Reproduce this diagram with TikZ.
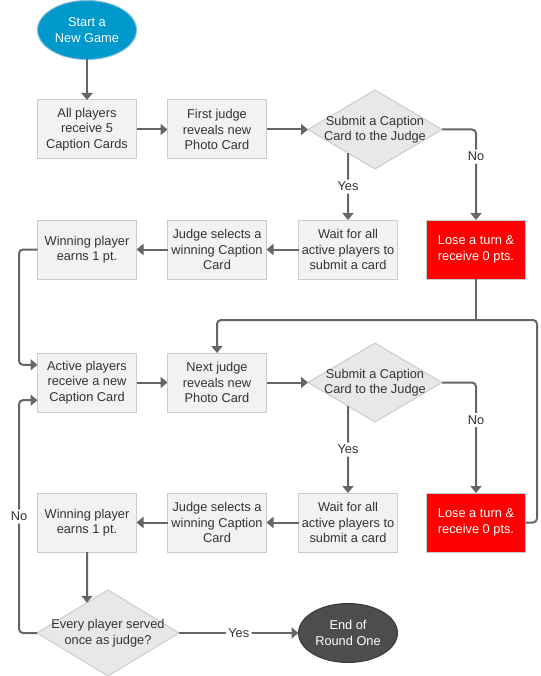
\documentclass[tikz,border=0pt]{standalone}
\usepackage{fontspec}
\setmainfont{Liberation Sans}
\usetikzlibrary{shapes.geometric,arrows.meta,calc}
\definecolor{lineg}{HTML}{666666}
\definecolor{boxf}{HTML}{F2F2F2}
\definecolor{boxd}{HTML}{CCCCCC}
\definecolor{diaf}{HTML}{E8E8E8}
\definecolor{txtc}{HTML}{333333}
\definecolor{startf}{HTML}{0099CC}
\definecolor{startd}{HTML}{7FBFD9}
\definecolor{endf}{HTML}{4D4D4D}
\definecolor{endd}{HTML}{3A3A3A}
\definecolor{redf}{HTML}{FF0000}
\begin{document}
\begin{tikzpicture}[x=1pt,y=-1pt,
  font=\fontsize{12.8}{15.5}\selectfont,
  box/.style={rectangle, draw=boxd, fill=boxf, line width=1pt, minimum width=99pt, minimum height=59pt, inner sep=0pt, align=center, text=txtc, outer sep=0pt},
  redbox/.style={box, fill=redf, text=white},
  dia/.style={diamond, draw=boxd, fill=diaf, line width=1pt, inner sep=0pt, outer sep=0pt},
  term/.style={ellipse, minimum width=99pt, minimum height=59pt, inner sep=0pt, align=center, text=white, line width=1pt, outer sep=0pt},
  dtext/.style={align=center, text=txtc, inner sep=0pt},
  arr/.style={draw=lineg, line width=2pt, -{Triangle[length=7pt,width=11pt]}, rounded corners=4pt},
  conn/.style={draw=lineg, line width=2pt, rounded corners=4pt},
  lbl/.style={fill=white, text=txtc, inner sep=2.5pt},
]
\useasboundingbox[fill=white] (0,0) rectangle (540,676);
% nodes
\node[term, fill=startf, draw=startd] (start) at (87,30) {Start a\\New Game};
\node[box] (b1) at (87,129.5) {All players\\receive 5\\Caption Cards};
\node[box] (b2) at (217,129.5) {First judge\\reveals new\\Photo Card};
\node[dia, minimum width=134pt, minimum height=79pt] (d1) at (375,129.5) {};
\node[dtext] (t1) at (d1) {Submit a Caption\\Card to the Judge};
\node[box] (w1) at (348,249.5) {Wait for all\\active players to\\submit a card};
\node[redbox] (r1) at (476,249.5) {Lose a turn \&\\receive 0 pts.};
\node[box] (j1) at (217,249.5) {Judge selects a\\winning Caption\\Card};
\node[box] (p1) at (87,249.5) {Winning player\\earns 1 pt.};
\node[box] (a1) at (87,382.5) {Active players\\receive a new\\Caption Card};
\node[box] (n2) at (217,382.5) {Next judge\\reveals new\\Photo Card};
\node[dia, minimum width=134pt, minimum height=79pt] (d2) at (375,382.5) {};
\node[dtext] (t2) at (d2) {Submit a Caption\\Card to the Judge};
\node[box] (w2) at (348,522.5) {Wait for all\\active players to\\submit a card};
\node[redbox] (r2) at (476,522.5) {Lose a turn \&\\receive 0 pts.};
\node[box] (j2) at (217,522.5) {Judge selects a\\winning Caption\\Card};
\node[box] (p2) at (87,522.5) {Winning player\\earns 1 pt.};
\node[dia, minimum width=142pt, minimum height=86pt] (d3) at (108,633) {};
\node[dtext] (t3) at (d3) {Every player served\\once as judge?};
\node[term, fill=endf, draw=endd] (end) at (348,633) {End of\\Round One};
% helper coordinates
\coordinate (lx) at (19,0);
\coordinate (rx) at (537,0);
\coordinate (jy) at (0,320);
\coordinate (a1in1) at ($(a1.north west)!0.2!(a1.south west)$);
\coordinate (a1in2) at ($(a1.north west)!0.8!(a1.south west)$);
\coordinate (y1) at (w1.north |- d1.center);
\coordinate (y2) at (w2.north |- d2.center);
\coordinate (y3) at (p2.south |- d3.center);
% connectors
\draw[arr] (start) -- (b1);
\draw[arr] (b1) -- (b2);
\draw[arr] (b2) -- (d1);
\draw[arr] (d1.east) -| node[lbl,pos=0.65]{No} (r1.north);
\draw[arr] (intersection of w1.north--y1 and d1.west--d1.south) -- node[lbl]{Yes} (w1.north);
\draw[arr] (w1) -- (j1);
\draw[arr] (j1) -- (p1);
\draw[arr] (p1.west) -- (p1.west -| lx) |- (a1in1);
\draw[conn] (r1.south) -- (r1.south |- jy);
\draw[arr] (r2.east) -| (rx |- jy) -| (n2.north);
\draw[arr] (a1) -- (n2);
\draw[arr] (n2) -- (d2);
\draw[arr] (d2.east) -| node[lbl,pos=0.67]{No} (r2.north);
\draw[arr] (intersection of w2.north--y2 and d2.west--d2.south) -- node[lbl]{Yes} (w2.north);
\draw[arr] (w2) -- (j2);
\draw[arr] (j2) -- (p2);
\draw[arr] (p2.south) -- (intersection of p2.south--y3 and d3.north--d3.west);
\draw[arr] (d3.west) -- (d3.west -| lx) |- node[lbl,pos=0.25]{No} (a1in2);
\draw[arr] (d3.east) -- node[lbl]{Yes} (end.west);
\end{tikzpicture}
\end{document}
